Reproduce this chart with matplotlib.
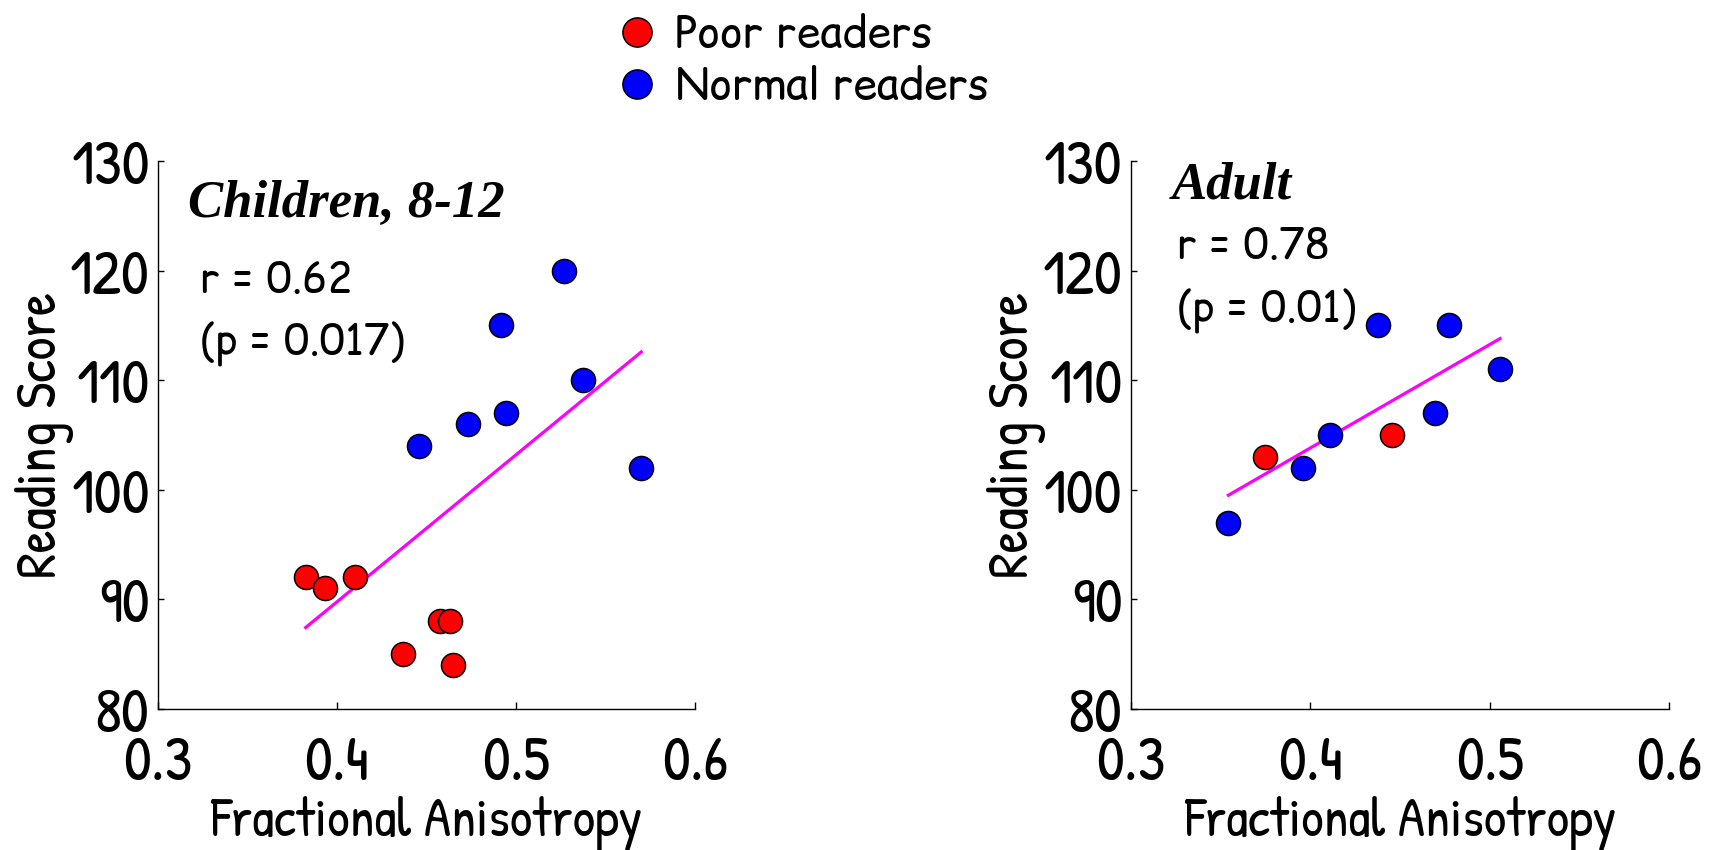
import numpy as np
import matplotlib
matplotlib.use("Agg")
import matplotlib.pyplot as plt
from matplotlib.lines import Line2D

# Children, 8-12
child_poor_fa = [0.3825, 0.3935, 0.4099, 0.4371, 0.4576, 0.4632, 0.4647]
child_poor_score = [92, 91, 92, 85, 88, 88, 84]
child_normal_fa = [0.4460, 0.4732, 0.4914, 0.4942, 0.5267, 0.5375, 0.5700]
child_normal_score = [104, 106, 115, 107, 120, 110, 102]

# Adults
adult_poor_fa = [0.3748, 0.4453]
adult_poor_score = [103, 105]
adult_normal_fa = [0.3543, 0.3960, 0.4109, 0.4378, 0.4695, 0.4776, 0.5058]
adult_normal_score = [97, 102, 105, 115, 107, 115, 111]

panel_titles = ["Children, 8-12", "Adult"]
panel_stats = [["r = 0.62", "(p = 0.017)"], ["r = 0.78", "(p = 0.01)"]]
x_ticks = [0.3, 0.4, 0.5, 0.6]
y_ticks = [80, 90, 100, 110, 120, 130]
legend_labels = ["Poor readers", "Normal readers"]

POOR = "#ff0000"
NORMAL = "#0000ff"
FIT = "#ff00ff"
HAND_FONT = ["Patrick Hand", "DejaVu Sans"]
NOTE_FONT = ["Comic Relief", "Comic Neue", "DejaVu Sans"]

fig = plt.figure(figsize=(17.16, 8.5), dpi=100)
fig.patch.set_facecolor("white")

panels = [
    (child_poor_fa, child_poor_score, child_normal_fa, child_normal_score),
    (adult_poor_fa, adult_poor_score, adult_normal_fa, adult_normal_score),
]
axes_rects = [[0.0921, 0.1659, 0.3129, 0.6447], [0.6591, 0.1659, 0.3135, 0.6447]]
title_pos = [(0.056, 0.922), (0.076, 0.956)]
stat_pos = [[(0.078, 0.78), (0.078, 0.667)], [(0.086, 0.841), (0.086, 0.726)]]

for i, (pfa, psc, nfa, nsc) in enumerate(panels):
    ax = fig.add_axes(axes_rects[i])
    all_x = np.array(pfa + nfa)
    all_y = np.array(psc + nsc)
    slope, intercept = np.polyfit(all_x, all_y, 1)
    xs = np.array([all_x.min(), all_x.max()])
    ax.plot(xs, slope * xs + intercept, color=FIT, lw=2.3, zorder=2)
    ax.scatter(pfa, psc, s=300, c=POOR, edgecolors="black", linewidths=1.1, zorder=3)
    ax.scatter(nfa, nsc, s=300, c=NORMAL, edgecolors="black", linewidths=1.1, zorder=3)

    ax.set_xlim(0.3, 0.6)
    ax.set_ylim(80, 130)
    ax.set_xticks(x_ticks)
    ax.set_yticks(y_ticks)
    ax.set_xticklabels([f"{v:.1f}" for v in x_ticks], family=HAND_FONT, fontsize=45)
    ax.set_yticklabels([str(v) for v in y_ticks], family=HAND_FONT, fontsize=45)
    ax.tick_params(axis="x", direction="in", length=5, width=1, pad=18)
    ax.tick_params(axis="y", direction="in", length=4, width=1, pad=6)
    for side in ("top", "right"):
        ax.spines[side].set_visible(False)
    for side in ("left", "bottom"):
        ax.spines[side].set_linewidth(1)
    ax.set_xlabel("Fractional Anisotropy", family=HAND_FONT, fontsize=40, va="center")
    ax.set_ylabel("Reading Score", family=HAND_FONT, fontsize=41, va="center")
    ax.xaxis.set_label_coords(0.5, -0.21)
    ax.yaxis.set_label_coords(-0.212, 0.5)

    tx, ty = title_pos[i]
    ax.text(tx, ty, panel_titles[i], transform=ax.transAxes, family="Liberation Serif",
            fontweight="bold", fontstyle="italic", fontsize=38, va="center", ha="left")
    for (sx, sy), s in zip(stat_pos[i], panel_stats[i]):
        ax.text(sx, sy, s, transform=ax.transAxes, family=NOTE_FONT, fontsize=30,
                va="center", ha="left")

handles = [
    Line2D([], [], ls="", marker="o", ms=21, mfc=POOR, mec="black", mew=1.1, label=legend_labels[0]),
    Line2D([], [], ls="", marker="o", ms=21, mfc=NORMAL, mec="black", mew=1.1, label=legend_labels[1]),
]
leg = fig.legend(handles=handles, loc="upper left", bbox_to_anchor=(0.3437, 1.005),
                 frameon=False, prop={"family": NOTE_FONT, "size": 31},
                 handlelength=1.4, handletextpad=0.18, labelspacing=0.13,
                 borderaxespad=0.0)

fig.savefig("out.png", dpi=100, facecolor="white")
